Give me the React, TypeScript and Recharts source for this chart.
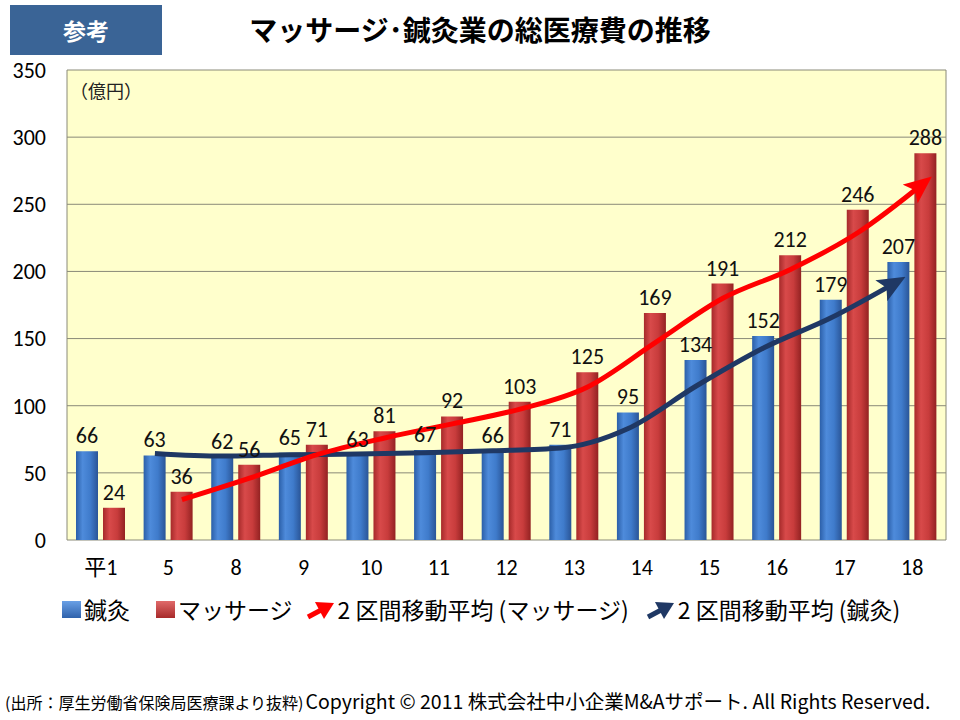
import {
  Bar,
  CartesianGrid,
  ComposedChart,
  LabelList,
  Line,
  XAxis,
  YAxis,
} from "recharts";

const categories = ["平1", "5", "8", "9", "10", "11", "12", "13", "14", "15", "16", "17", "18"];
const acupuncture = [66, 63, 62, 65, 63, 67, 66, 71, 95, 134, 152, 179, 207];
const massage = [24, 36, 56, 71, 81, 92, 103, 125, 169, 191, 212, 246, 288];
// 2区間移動平均
const massageAvg = [null, 30, 46, 63.5, 76, 86.5, 97.5, 114, 147, 180, 201.5, 229, 267];
const acupunctureAvg = [null, 64.5, 62.5, 63.5, 64, 65, 66.5, 68.5, 83, 114.5, 143, 165.5, 193];
const yTicks = [0, 50, 100, 150, 200, 250, 300, 350];

// bar centre offset inside a category, in category units
const BAR_SHIFT = 0.2;

const barData = categories.map((c, i) => ({ cat: c, acu: acupuncture[i], mas: massage[i] }));
const masLine = massageAvg
  .map((v, i) => ({ x: i + BAR_SHIFT, v }))
  .filter((d) => d.v !== null);
const acuLine = acupunctureAvg
  .map((v, i) => ({ x: i - BAR_SHIFT, v }))
  .filter((d) => d.v !== null);

const NUM_FONT = "Carlito, Lato, 'Noto Sans CJK JP', sans-serif";
const JP_FONT = "'Noto Sans CJK JP', sans-serif";

function ArrowIcon({ color }: { color: string }) {
  return (
    <svg width="30" height="26" style={{ display: "block" }}>
      <line x1="3" y1="21" x2="18" y2="13" stroke={color} strokeWidth="5" />
      <path d="M10,6 L29,7 L19,23 z" fill={color} />
    </svg>
  );
}

function BoxIcon({ from, to }: { from: string; to: string }) {
  return (
    <div
      style={{
        width: 19,
        height: 17,
        background: `linear-gradient(to bottom, ${from}, ${to})`,
        marginRight: 3,
      }}
    />
  );
}

export default function App() {
  return (
    <div
      style={{
        position: "absolute",
        left: 0,
        top: 0,
        width: 960,
        height: 720,
        background: "#fff",
        fontFamily: JP_FONT,
        overflow: "hidden",
      }}
    >
      <svg width="0" height="0" style={{ position: "absolute" }}>
        <defs>
          <linearGradient id="gBlue" x1="0" y1="0" x2="1" y2="0">
            <stop offset="0" stopColor="#2b5fa8" />
            <stop offset="0.3" stopColor="#4e8bdb" />
            <stop offset="0.65" stopColor="#3f7bcb" />
            <stop offset="1" stopColor="#2a5597" />
          </linearGradient>
          <linearGradient id="gRed" x1="0" y1="0" x2="1" y2="0">
            <stop offset="0" stopColor="#a62a2a" />
            <stop offset="0.3" stopColor="#d84a4a" />
            <stop offset="0.65" stopColor="#c83c3c" />
            <stop offset="1" stopColor="#932222" />
          </linearGradient>
          <marker id="arrRed" markerUnits="userSpaceOnUse" markerWidth="28" markerHeight="24" refX="20" refY="12" orient="auto">
            <path d="M0,0 L28,12 L0,24 L6,12 z" fill="#ff0000" />
          </marker>
          <marker id="arrNavy" markerUnits="userSpaceOnUse" markerWidth="28" markerHeight="24" refX="20" refY="12" orient="auto">
            <path d="M0,0 L28,12 L0,24 L6,12 z" fill="#1f3864" />
          </marker>
        </defs>
      </svg>

      <div
        style={{
          position: "absolute",
          left: 10,
          top: 5,
          width: 152,
          height: 50,
          background: "#3a6496",
          color: "#fff",
          fontSize: 23,
          fontWeight: 700,
          lineHeight: "50px",
          textAlign: "center",
        }}
      >
        参考
      </div>
      <div
        style={{
          position: "absolute",
          left: 180,
          top: 9,
          width: 600,
          textAlign: "center",
          fontSize: 28,
          fontWeight: 700,
          color: "#000",
        }}
      >
        マッサージ･鍼灸業の総医療費の推移
      </div>

      <div style={{ position: "absolute", left: 0, top: 0 }}>
        <ComposedChart
          width={960}
          height={720}
          data={barData}
          margin={{ top: 70, right: 0, left: 0, bottom: 130 }}
          barSize={22}
          barGap={5}
        >
          <CartesianGrid vertical={false} stroke="#8a8a78" fill="#ffffcc" />
          <XAxis
            dataKey="cat"
            height={50}
            axisLine={false}
            tickLine={false}
            tickSize={0}
            tickMargin={19}
            tick={{ fontSize: 22, fill: "#000", fontFamily: NUM_FONT }}
            interval={0}
          />
          <XAxis xAxisId="num" type="number" dataKey="x" domain={[-0.5, 12.5]} hide allowDataOverflow />
          <YAxis
            width={67}
            domain={[0, 350]}
            ticks={yTicks}
            axisLine={{ stroke: "#8a8a78" }}
            tickLine={false}
            tickSize={0}
            tickMargin={21}
            tick={{ fontSize: 22, fill: "#000", fontFamily: NUM_FONT }}
          />
          <YAxis
            yAxisId="r"
            orientation="right"
            width={14}
            domain={[0, 350]}
            tick={false}
            tickLine={false}
            axisLine={{ stroke: "#8a8a78" }}
          />
          <Bar dataKey="acu" fill="url(#gBlue)" isAnimationActive={false}>
            <LabelList dataKey="acu" position="top" offset={8} fill="#111" fontSize={22} fontFamily={NUM_FONT} />
          </Bar>
          <Bar dataKey="mas" fill="url(#gRed)" isAnimationActive={false}>
            <LabelList dataKey="mas" position="top" offset={8} fill="#111" fontSize={22} fontFamily={NUM_FONT} />
          </Bar>
          <Line
            xAxisId="num"
            data={acuLine}
            dataKey="v"
            type="monotone"
            stroke="#1f3864"
            strokeWidth={5}
            dot={false}
            activeDot={false}
            markerEnd="url(#arrNavy)"
            isAnimationActive={false}
          />
          <Line
            xAxisId="num"
            data={masLine}
            dataKey="v"
            type="monotone"
            stroke="#ff0000"
            strokeWidth={5}
            dot={false}
            activeDot={false}
            markerEnd="url(#arrRed)"
            isAnimationActive={false}
          />
        </ComposedChart>
      </div>

      <div style={{ position: "absolute", left: 70, top: 77, fontSize: 18, color: "#222" }}>（億円）</div>

      <div
        style={{
          position: "absolute",
          left: 62,
          top: 592,
          display: "flex",
          alignItems: "center",
          fontSize: 23,
          color: "#000",
          whiteSpace: "nowrap",
        }}
      >
        <BoxIcon from="#6aa0e6" to="#2f62ab" />
        <span style={{ marginRight: 26 }}>鍼灸</span>
        <BoxIcon from="#e06a6a" to="#a82a2a" />
        <span style={{ marginRight: 12 }}>マッサージ</span>
        <ArrowIcon color="#ff0000" />
        <span style={{ marginLeft: 3, marginRight: 16 }}>2 区間移動平均 (マッサージ)</span>
        <ArrowIcon color="#1f3864" />
        <span style={{ marginLeft: 3 }}>2 区間移動平均 (鍼灸)</span>
      </div>

      <div
        style={{
          position: "absolute",
          left: 5,
          top: 686,
          color: "#000",
          whiteSpace: "nowrap",
          display: "flex",
          alignItems: "baseline",
        }}
      >
        <span style={{ fontSize: 16 }}>(出所：厚生労働省保険局医療課より抜粋)</span>
        <span style={{ fontSize: 19.5, marginLeft: 2 }}>Copyright © 2011 株式会社中小企業M&amp;Aサポート. All Rights Reserved.</span>
      </div>
    </div>
  );
}
